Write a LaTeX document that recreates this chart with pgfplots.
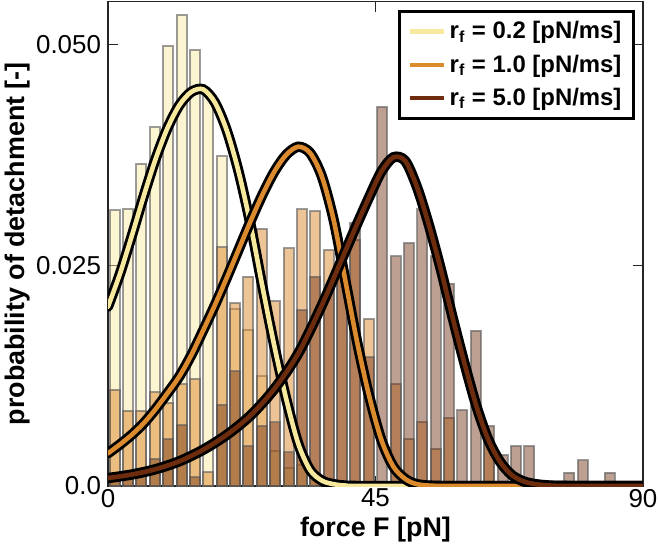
\documentclass[border=0pt]{standalone}
\usepackage{fontspec}
\setmainfont{Liberation Sans}
\usepackage{pgfplots}
\usepackage{pgfplotstable}
\pgfplotsset{compat=1.18}
\definecolor{cy}{HTML}{F6E89C}
\definecolor{co}{HTML}{DB8A2E}
\definecolor{cb}{HTML}{6E2C0E}
\definecolor{barline}{HTML}{5A5A5A}

\pgfplotstableread{
x y o b
1.125 0.0312 0.0109 0.0007
3.375 0.0313 0.0085 0.0009
5.625 0.0365 0.0085 0.0012
7.875 0.0406 0.0106 0.0031
10.125 0.0498 0.0094 0.0053
12.375 0.0533 0.0115 0.0069
14.625 0.0494 0.0121 0.0010
16.875 0.0445 0.0016 nan
19.125 0.0373 0.0270 0.0092
21.375 0.0200 0.0207 0.0130
23.625 0.0177 0.0237 0.0045
25.875 0.0124 0.0291 0.0068
28.125 0.0040 0.0209 0.0072
30.375 0.0020 0.0269 0.0038
32.625 0.0024 0.0313 0.0199
34.875 0.0010 0.0311 0.0237
37.125 nan 0.0267 0.0222
39.375 nan 0.0238 0.0236
41.625 nan 0.0279 0.0298
43.875 nan 0.0189 0.0146
46.125 nan nan 0.0429
48.375 nan 0.0115 0.0260
50.625 nan 0.0053 0.0275
52.875 nan 0.0072 0.0313
55.125 nan 0.0042 0.0260
57.375 nan 0.0077 0.0229
59.625 nan nan 0.0086
61.875 nan nan 0.0176
64.125 nan 0.0050 0.0068
66.375 nan nan 0.0035
68.625 nan nan 0.0045
70.875 nan nan 0.0045
77.625 nan nan 0.0015
79.875 nan nan 0.0029
84.375 nan nan 0.0015
}\hist

\pgfplotstableread{
x p
0 0.0203
2 0.0240
4 0.0283
6 0.0328
8 0.0370
10 0.0405
12 0.0431
14 0.0446
16 0.0449
18 0.0434
20 0.0402
22 0.0355
24 0.0295
26 0.0225
28 0.0158
30 0.0098
32 0.0048
34 0.0018
36 0.0006
38 0.0002
40 0.00005
45 0
90 0
}\cyel

\pgfplotstableread{
x p
0 0.0037
2 0.0047
4 0.0058
6 0.0071
8 0.0087
10 0.0105
12 0.0124
14 0.0148
16 0.0176
18 0.0205
20 0.0236
22 0.0268
24 0.0300
26 0.0330
28 0.0356
30 0.0375
32 0.0384
34 0.0377
36 0.0350
38 0.0300
40 0.0230
42 0.0160
44 0.0100
46 0.0052
48 0.0022
50 0.0008
52 0.0002
55 0.00002
60 0
90 0
}\cora

\pgfplotstableread{
x p
0 0.0009
4 0.0013
8 0.0019
12 0.0028
16 0.0041
20 0.0058
24 0.0080
28 0.0110
32 0.0150
36 0.0205
40 0.0267
42 0.0298
44 0.0328
46 0.0356
48 0.0372
50 0.0368
52 0.0338
54 0.0295
56 0.0245
58 0.0190
60 0.0138
62 0.0090
64 0.0052
66 0.0027
68 0.0012
70 0.0005
72 0.0002
75 0.00003
80 0
90 0
}\cbro

\begin{document}
\begin{tikzpicture}
\begin{axis}[
  scale only axis, width=267.5bp, height=242.25bp,
  xmin=0, xmax=90, ymin=0, ymax=0.05484,
  xtick={0,45,90}, xticklabels={0,45,90},
  ytick={0,0.025,0.05}, yticklabels={0.0,0.025,0.050},
  tick align=inside, major tick length=5bp,
  tick style={line width=0.6bp, color=black!85},
  axis line style={line width=0.6bp, color=black!85},
  ticklabel style={font=\fontsize{13}{15}\selectfont},
  xticklabel style={yshift=2bp},
  xlabel={\fontsize{13.5}{16}\selectfont\bfseries force F [pN]},
  ylabel={\fontsize{13.5}{16}\selectfont\bfseries probability of detachment [-]},
  every axis x label/.style={at={(axis description cs:0.5,-0.09)}, anchor=center},
  every axis y label/.style={at={(axis description cs:-0.17,0.5)}, rotate=90, anchor=center},
  legend style={at={(axis description cs:0.985,0.9825)}, anchor=north east,
    draw=black, line width=1.5bp, fill=white,
    font=\fontsize{12}{14}\selectfont\bfseries, row sep=2.5bp,
    inner xsep=4bp, inner ysep=3bp},
  legend cell align=left,
  unbounded coords=discard,
]
\addlegendimage{line width=2.2bp, color=cy}
\addlegendentry{r\textsubscript{f} = 0.2 [pN/ms]}
\addlegendimage{line width=2.2bp, color=co}
\addlegendentry{r\textsubscript{f} = 1.0 [pN/ms]}
\addlegendimage{line width=2.2bp, color=cb}
\addlegendentry{r\textsubscript{f} = 5.0 [pN/ms]}

\addplot[forget plot, ybar, bar width=1.68, bar shift=0pt, fill=cy, fill opacity=0.45,
  draw=barline, draw opacity=0.6, line width=1bp] table[x=x, y=y] {\hist};
\addplot[forget plot, ybar, bar width=1.68, bar shift=0pt, fill=co, fill opacity=0.5,
  draw=barline, draw opacity=0.6, line width=1bp] table[x=x, y=o] {\hist};
\addplot[forget plot, ybar, bar width=1.68, bar shift=0pt, fill=cb, fill opacity=0.45,
  draw=barline, draw opacity=0.6, line width=1bp] table[x=x, y=b] {\hist};

\addplot[forget plot, smooth, black, line width=5.2bp, line cap=round] table[x=x, y=p] {\cyel};
\addplot[forget plot, smooth, cy, line width=2.3bp, line cap=round] table[x=x, y=p] {\cyel};
\addplot[forget plot, smooth, black, line width=5.2bp, line cap=round] table[x=x, y=p] {\cora};
\addplot[forget plot, smooth, co, line width=2.3bp, line cap=round] table[x=x, y=p] {\cora};
\addplot[forget plot, smooth, black, line width=5.2bp, line cap=round] table[x=x, y=p] {\cbro};
\addplot[forget plot, smooth, cb, line width=2.3bp, line cap=round] table[x=x, y=p] {\cbro};
\end{axis}
\pgfresetboundingbox
\path[use as bounding box] (-54bp,-29bp) rectangle (275bp,243bp);
\end{tikzpicture}
\end{document}
